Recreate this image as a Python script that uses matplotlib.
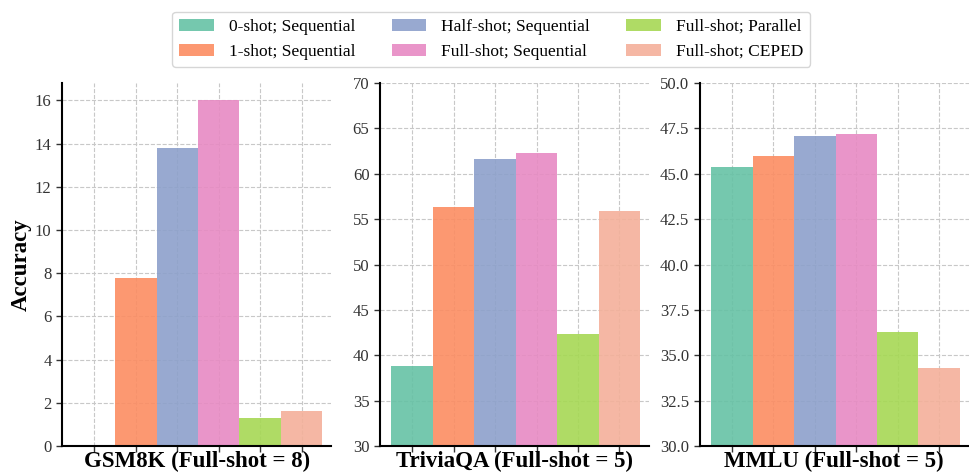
import matplotlib.pyplot as plt
import numpy as np

plt.rcParams['font.family'] = ['Liberation Serif', 'DejaVu Serif']

# 数据
methods = ["0-shot; Sequential", "1-shot; Sequential", "Half-shot; Sequential",
           "Full-shot; Sequential", "Full-shot; Parallel", "Full-shot; CEPED"]
colors = ["#66c2a5", "#fc8d62", "#8da0cb", "#e78ac3", "#a6d854", "#f4b09a"]

titles = ["GSM8K (Full-shot = 8)", "TriviaQA (Full-shot = 5)", "MMLU (Full-shot = 5)"]
gsm8k = [0.0, 7.8, 13.8, 16.0, 1.3, 1.6]
triviaqa = [38.8, 56.3, 61.6, 62.3, 42.4, 55.9]
mmlu = [45.4, 46.0, 47.1, 47.2, 36.3, 34.3]
ylims = [None, (30, 70), (30, 50)]


def main():
    fig = plt.figure(figsize=(9.69, 4.75), dpi=100)
    lefts = [0.064, 0.392, 0.722]
    x = np.arange(len(methods))
    for i, vals in enumerate([gsm8k, triviaqa, mmlu]):
        ax = fig.add_axes([lefts[i], 0.061, 0.278, 0.764])
        bars = ax.bar(x, vals, width=1.0, color=colors, alpha=0.9, zorder=2)
        if ylims[i] is not None:
            ax.set_ylim(*ylims[i])
        else:
            ax.set_ylim(0, max(vals) * 1.05)
        ax.set_xlim(-0.78, 5.72)
        ax.set_xticks(x)
        ax.set_xticklabels([])
        ax.grid(True, linestyle="--", color="#c8c8c8", linewidth=0.8, zorder=0)
        ax.set_axisbelow(True)
        for s in ["top", "right"]:
            ax.spines[s].set_visible(False)
        for s in ["left", "bottom"]:
            ax.spines[s].set_linewidth(1.5)
        ax.tick_params(labelsize=12, length=4, width=1, colors="#333333")
        ax.set_xlabel(titles[i], fontsize=16.5, fontweight="bold")
        ax.xaxis.set_label_coords(0.5, -0.013)
        if i == 0:
            ax.set_ylabel("Accuracy", fontsize=16.5, fontweight="bold", labelpad=2)
            handles = bars

    fig.legend(handles, methods, loc="upper center", ncol=3,
               bbox_to_anchor=(0.507, 0.993), fontsize=12.5, frameon=True,
               handlelength=2.0, handletextpad=0.85, columnspacing=2.1,
               edgecolor="#cccccc")
    plt.savefig("out.png", dpi=100)
    plt.close()


if __name__ == "__main__":
    main()
